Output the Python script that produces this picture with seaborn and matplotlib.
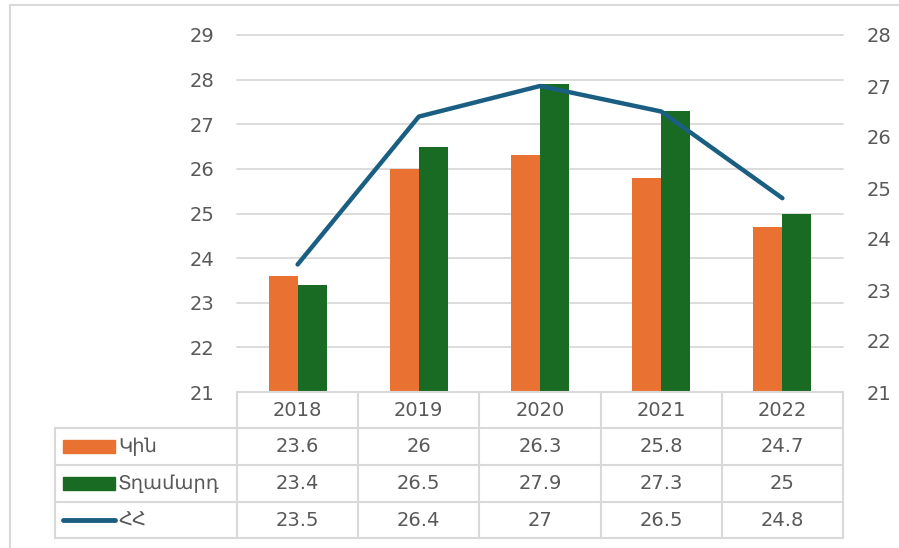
import numpy as np
import pandas as pd
import matplotlib.pyplot as plt
import seaborn as sns
from matplotlib.patches import Rectangle
from matplotlib.lines import Line2D

# data
years = ['2018', '2019', '2020', '2021', '2022']
women = [23.6, 26, 26.3, 25.8, 24.7]
men = [23.4, 26.5, 27.9, 27.3, 25]
total = [23.5, 26.4, 27, 26.5, 24.8]
series_names = ['Կին', 'Տղամարդ', 'ՀՀ']

c_orange = '#e97132'
c_green = '#196b24'
c_blue = '#1a5f82'
c_text = '#595959'
c_grid = '#d9d9d9'

sns.set_style('white')
plt.rcParams['font.family'] = ['DejaVu Sans']
fs = 14

W, H = 899, 548
fig = plt.figure(figsize=(W / 100, H / 100), dpi=100)

# pixel helpers for layout
def fx(px):
    return px / W

def fy(py):
    return 1 - py / H

L, R, T, B = 237, 843, 35, 392
ax = fig.add_axes([fx(L), fy(B), fx(R) - fx(L), fy(T) - fy(B)])

df = pd.DataFrame({
    'year': years * 2,
    'value': women + men,
    'series': [series_names[0]] * len(years) + [series_names[1]] * len(years),
})
sns.barplot(data=df, x='year', y='value', hue='series',
            palette=[c_orange, c_green], width=0.48, saturation=1,
            linewidth=0, legend=False, ax=ax)
ax.set_ylim(21, 29)
ax.set_yticks(range(21, 30))
ax.set_xlim(-0.5, len(years) - 0.5)
ax.set_xlabel('')
ax.set_ylabel('')
ax.set_xticks([])
ax.yaxis.grid(True, color=c_grid, lw=1.3)
for g in ax.get_ygridlines():
    g.set_clip_on(False)
ax.set_axisbelow(True)
ax.tick_params(axis='y', length=0, pad=16, labelsize=fs, labelcolor=c_text)
for s in ax.spines.values():
    s.set_visible(False)

ax2 = ax.twinx()
sns.lineplot(x=np.arange(len(years)), y=total, color=c_blue, lw=3.2,
             ax=ax2, solid_capstyle='round')
ax2.set_ylim(21, 28)
ax2.set_yticks(range(21, 29))
ax2.tick_params(axis='y', length=0, pad=17, labelsize=fs, labelcolor=c_text)
ax2.set_ylabel('')
for s in ax2.spines.values():
    s.set_visible(False)

# outer chart border
fig.add_artist(Line2D([fx(10), fx(10)], [fy(5), 0], color=c_grid, lw=1.5))
fig.add_artist(Line2D([fx(10), 1], [fy(5), fy(5)], color=c_grid, lw=1.5))

# data table
rows_y = [392, 428, 465, 502, 538]
col_x = [L + (R - L) * i / len(years) for i in range(len(years) + 1)]
leg_x = 55
lc = dict(color=c_grid, lw=1.5)
# horizontal lines
fig.add_artist(Line2D([fx(L), fx(R)], [fy(rows_y[0])] * 2, **lc))
for y in rows_y[1:]:
    fig.add_artist(Line2D([fx(leg_x), fx(R)], [fy(y)] * 2, **lc))
# vertical lines
for x in col_x:
    fig.add_artist(Line2D([fx(x)] * 2, [fy(rows_y[0]), fy(rows_y[-1])], **lc))
fig.add_artist(Line2D([fx(leg_x)] * 2, [fy(rows_y[1]), fy(rows_y[-1])], **lc))

def mid(a, b):
    return (a + b) / 2

for i, yr in enumerate(years):
    fig.text(fx(mid(col_x[i], col_x[i + 1])), fy(mid(rows_y[0], rows_y[1])), yr,
             ha='center', va='center', fontsize=fs, color=c_text)
for r, vals in enumerate([women, men, total]):
    yc = mid(rows_y[r + 1], rows_y[r + 2])
    for i, v in enumerate(vals):
        fig.text(fx(mid(col_x[i], col_x[i + 1])), fy(yc), f'{v:g}',
                 ha='center', va='center', fontsize=fs, color=c_text)
    # legend keys
    if r < 2:
        fig.add_artist(Rectangle((fx(63), fy(yc + 6)), fx(115) - fx(63), fy(yc - 6) - fy(yc + 6),
                                 color=[c_orange, c_green][r], transform=fig.transFigure))
    else:
        fig.add_artist(Line2D([fx(63), fx(115)], [fy(yc)] * 2, color=c_blue, lw=3.5,
                              solid_capstyle='round'))
    fig.text(fx(118), fy(yc), series_names[r], ha='left', va='center',
             fontsize=fs, color=c_text)

fig.savefig('out.png', dpi=100)
